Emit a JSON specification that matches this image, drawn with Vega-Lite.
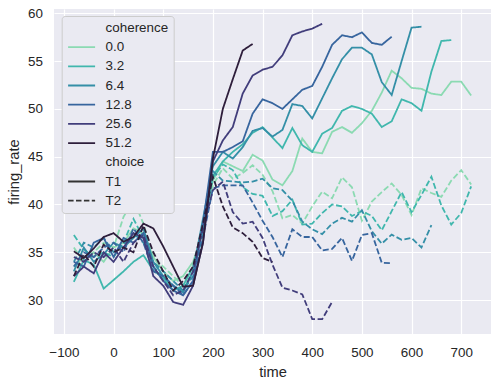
{
 "$schema": "https://vega.github.io/schema/vega-lite/v6.json",
 "width": 437, "height": 325,
 "autosize": {"type": "none"},
 "padding": {"left": 54, "top": 9, "right": 8, "bottom": 52},
 "background": "white",
 "config": {
  "view": {"fill": "#EAEAF2", "stroke": null},
  "font": "Liberation Sans",
  "axis": {"domain": false, "ticks": false, "grid": true, "gridColor": "white", "gridWidth": 1.2, "labelFont": "Liberation Sans", "labelFontSize": 13.4, "labelColor": "#262626", "labelPadding": 11.6, "titleFont": "Liberation Sans", "titleFontSize": 14.7, "titleFontWeight": "normal", "titleColor": "#262626"}
 },
 "data": {"values": [
{"time":-80,"coh":"0.0","choice":"T1","rate":33.5},{"time":-60,"coh":"0.0","choice":"T1","rate":34.5},{"time":-40,"coh":"0.0","choice":"T1","rate":35.0},{"time":-20,"coh":"0.0","choice":"T1","rate":34.0},{"time":0,"coh":"0.0","choice":"T1","rate":35.5},{"time":20,"coh":"0.0","choice":"T1","rate":36.0},{"time":40,"coh":"0.0","choice":"T1","rate":37.5},{"time":60,"coh":"0.0","choice":"T1","rate":37.0},{"time":80,"coh":"0.0","choice":"T1","rate":34.5},{"time":100,"coh":"0.0","choice":"T1","rate":33.0},{"time":120,"coh":"0.0","choice":"T1","rate":32.0},{"time":140,"coh":"0.0","choice":"T1","rate":32.5},{"time":160,"coh":"0.0","choice":"T1","rate":34.0},{"time":180,"coh":"0.0","choice":"T1","rate":37.0},{"time":200,"coh":"0.0","choice":"T1","rate":42.5},{"time":220,"coh":"0.0","choice":"T1","rate":44.5},{"time":240,"coh":"0.0","choice":"T1","rate":44.0},{"time":260,"coh":"0.0","choice":"T1","rate":43.5},{"time":280,"coh":"0.0","choice":"T1","rate":45.2},{"time":300,"coh":"0.0","choice":"T1","rate":44.6},{"time":320,"coh":"0.0","choice":"T1","rate":42.6},{"time":340,"coh":"0.0","choice":"T1","rate":42.0},{"time":360,"coh":"0.0","choice":"T1","rate":43.5},{"time":380,"coh":"0.0","choice":"T1","rate":46.9},{"time":400,"coh":"0.0","choice":"T1","rate":45.5},{"time":420,"coh":"0.0","choice":"T1","rate":45.35},{"time":440,"coh":"0.0","choice":"T1","rate":47.6},{"time":460,"coh":"0.0","choice":"T1","rate":48.1},{"time":480,"coh":"0.0","choice":"T1","rate":47.5},{"time":500,"coh":"0.0","choice":"T1","rate":48.5},{"time":520,"coh":"0.0","choice":"T1","rate":49.8},{"time":540,"coh":"0.0","choice":"T1","rate":51.7},{"time":560,"coh":"0.0","choice":"T1","rate":54.0},{"time":580,"coh":"0.0","choice":"T1","rate":53.2},{"time":600,"coh":"0.0","choice":"T1","rate":52.2},{"time":620,"coh":"0.0","choice":"T1","rate":52.1},{"time":640,"coh":"0.0","choice":"T1","rate":51.6},{"time":660,"coh":"0.0","choice":"T1","rate":51.45},{"time":680,"coh":"0.0","choice":"T1","rate":52.85},{"time":700,"coh":"0.0","choice":"T1","rate":52.85},{"time":720,"coh":"0.0","choice":"T1","rate":51.4},
{"time":-80,"coh":"0.0","choice":"T2","rate":35.5},{"time":-60,"coh":"0.0","choice":"T2","rate":34.0},{"time":-40,"coh":"0.0","choice":"T2","rate":35.0},{"time":-20,"coh":"0.0","choice":"T2","rate":36.0},{"time":0,"coh":"0.0","choice":"T2","rate":35.5},{"time":20,"coh":"0.0","choice":"T2","rate":38.7},{"time":40,"coh":"0.0","choice":"T2","rate":40.5},{"time":60,"coh":"0.0","choice":"T2","rate":38.0},{"time":80,"coh":"0.0","choice":"T2","rate":34.5},{"time":100,"coh":"0.0","choice":"T2","rate":33.5},{"time":120,"coh":"0.0","choice":"T2","rate":32.5},{"time":140,"coh":"0.0","choice":"T2","rate":31.5},{"time":160,"coh":"0.0","choice":"T2","rate":33.5},{"time":180,"coh":"0.0","choice":"T2","rate":37.5},{"time":200,"coh":"0.0","choice":"T2","rate":42.0},{"time":220,"coh":"0.0","choice":"T2","rate":43.8},{"time":240,"coh":"0.0","choice":"T2","rate":42.7},{"time":260,"coh":"0.0","choice":"T2","rate":43.3},{"time":280,"coh":"0.0","choice":"T2","rate":44.1},{"time":300,"coh":"0.0","choice":"T2","rate":43.1},{"time":320,"coh":"0.0","choice":"T2","rate":41.4},{"time":340,"coh":"0.0","choice":"T2","rate":38.55},{"time":360,"coh":"0.0","choice":"T2","rate":38.9},{"time":380,"coh":"0.0","choice":"T2","rate":38.0},{"time":400,"coh":"0.0","choice":"T2","rate":39.8},{"time":420,"coh":"0.0","choice":"T2","rate":41.35},{"time":440,"coh":"0.0","choice":"T2","rate":40.65},{"time":460,"coh":"0.0","choice":"T2","rate":42.85},{"time":480,"coh":"0.0","choice":"T2","rate":41.8},{"time":500,"coh":"0.0","choice":"T2","rate":38.3},{"time":520,"coh":"0.0","choice":"T2","rate":40.3},{"time":540,"coh":"0.0","choice":"T2","rate":41.3},{"time":560,"coh":"0.0","choice":"T2","rate":42.2},{"time":580,"coh":"0.0","choice":"T2","rate":41.0},{"time":600,"coh":"0.0","choice":"T2","rate":38.9},{"time":620,"coh":"0.0","choice":"T2","rate":41.7},{"time":640,"coh":"0.0","choice":"T2","rate":41.2},{"time":660,"coh":"0.0","choice":"T2","rate":40.8},{"time":680,"coh":"0.0","choice":"T2","rate":42.5},{"time":700,"coh":"0.0","choice":"T2","rate":43.6},{"time":720,"coh":"0.0","choice":"T2","rate":42.1},
{"time":-80,"coh":"3.2","choice":"T1","rate":31.9},{"time":-60,"coh":"3.2","choice":"T1","rate":34.2},{"time":-40,"coh":"3.2","choice":"T1","rate":33.7},{"time":-20,"coh":"3.2","choice":"T1","rate":31.2},{"time":0,"coh":"3.2","choice":"T1","rate":32.1},{"time":20,"coh":"3.2","choice":"T1","rate":33.0},{"time":40,"coh":"3.2","choice":"T1","rate":34.0},{"time":60,"coh":"3.2","choice":"T1","rate":34.7},{"time":80,"coh":"3.2","choice":"T1","rate":33.1},{"time":100,"coh":"3.2","choice":"T1","rate":32.3},{"time":120,"coh":"3.2","choice":"T1","rate":31.0},{"time":140,"coh":"3.2","choice":"T1","rate":31.5},{"time":160,"coh":"3.2","choice":"T1","rate":33.5},{"time":180,"coh":"3.2","choice":"T1","rate":37.5},{"time":200,"coh":"3.2","choice":"T1","rate":43.0},{"time":220,"coh":"3.2","choice":"T1","rate":44.5},{"time":240,"coh":"3.2","choice":"T1","rate":45.5},{"time":260,"coh":"3.2","choice":"T1","rate":46.3},{"time":280,"coh":"3.2","choice":"T1","rate":47.5},{"time":300,"coh":"3.2","choice":"T1","rate":48.1},{"time":320,"coh":"3.2","choice":"T1","rate":47.0},{"time":340,"coh":"3.2","choice":"T1","rate":45.9},{"time":360,"coh":"3.2","choice":"T1","rate":48.0},{"time":380,"coh":"3.2","choice":"T1","rate":46.2},{"time":400,"coh":"3.2","choice":"T1","rate":45.5},{"time":420,"coh":"3.2","choice":"T1","rate":47.4},{"time":440,"coh":"3.2","choice":"T1","rate":48.0},{"time":460,"coh":"3.2","choice":"T1","rate":49.8},{"time":480,"coh":"3.2","choice":"T1","rate":50.3},{"time":500,"coh":"3.2","choice":"T1","rate":50.0},{"time":520,"coh":"3.2","choice":"T1","rate":49.5},{"time":540,"coh":"3.2","choice":"T1","rate":48.1},{"time":560,"coh":"3.2","choice":"T1","rate":48.7},{"time":580,"coh":"3.2","choice":"T1","rate":51.0},{"time":600,"coh":"3.2","choice":"T1","rate":50.6},{"time":620,"coh":"3.2","choice":"T1","rate":49.8},{"time":640,"coh":"3.2","choice":"T1","rate":53.9},{"time":660,"coh":"3.2","choice":"T1","rate":57.1},{"time":680,"coh":"3.2","choice":"T1","rate":57.2},
{"time":-80,"coh":"3.2","choice":"T2","rate":36.8},{"time":-60,"coh":"3.2","choice":"T2","rate":35.3},{"time":-40,"coh":"3.2","choice":"T2","rate":34.5},{"time":-20,"coh":"3.2","choice":"T2","rate":35.0},{"time":0,"coh":"3.2","choice":"T2","rate":34.5},{"time":20,"coh":"3.2","choice":"T2","rate":36.0},{"time":40,"coh":"3.2","choice":"T2","rate":38.5},{"time":60,"coh":"3.2","choice":"T2","rate":36.5},{"time":80,"coh":"3.2","choice":"T2","rate":33.5},{"time":100,"coh":"3.2","choice":"T2","rate":32.5},{"time":120,"coh":"3.2","choice":"T2","rate":31.5},{"time":140,"coh":"3.2","choice":"T2","rate":31.0},{"time":160,"coh":"3.2","choice":"T2","rate":33.0},{"time":180,"coh":"3.2","choice":"T2","rate":38.0},{"time":200,"coh":"3.2","choice":"T2","rate":42.8},{"time":220,"coh":"3.2","choice":"T2","rate":44.2},{"time":240,"coh":"3.2","choice":"T2","rate":43.6},{"time":260,"coh":"3.2","choice":"T2","rate":41.8},{"time":280,"coh":"3.2","choice":"T2","rate":41.1},{"time":300,"coh":"3.2","choice":"T2","rate":40.9},{"time":320,"coh":"3.2","choice":"T2","rate":38.8},{"time":340,"coh":"3.2","choice":"T2","rate":39.3},{"time":360,"coh":"3.2","choice":"T2","rate":40.5},{"time":380,"coh":"3.2","choice":"T2","rate":37.9},{"time":400,"coh":"3.2","choice":"T2","rate":38.0},{"time":420,"coh":"3.2","choice":"T2","rate":39.1},{"time":440,"coh":"3.2","choice":"T2","rate":40.0},{"time":460,"coh":"3.2","choice":"T2","rate":39.8},{"time":480,"coh":"3.2","choice":"T2","rate":38.8},{"time":500,"coh":"3.2","choice":"T2","rate":39.3},{"time":520,"coh":"3.2","choice":"T2","rate":38.8},{"time":540,"coh":"3.2","choice":"T2","rate":37.3},{"time":560,"coh":"3.2","choice":"T2","rate":39.3},{"time":580,"coh":"3.2","choice":"T2","rate":41.3},{"time":600,"coh":"3.2","choice":"T2","rate":39.2},{"time":620,"coh":"3.2","choice":"T2","rate":41.0},{"time":640,"coh":"3.2","choice":"T2","rate":42.9},{"time":660,"coh":"3.2","choice":"T2","rate":39.9},{"time":680,"coh":"3.2","choice":"T2","rate":37.9},{"time":700,"coh":"3.2","choice":"T2","rate":39.1},{"time":720,"coh":"3.2","choice":"T2","rate":41.9},
{"time":-80,"coh":"6.4","choice":"T1","rate":33.0},{"time":-60,"coh":"6.4","choice":"T1","rate":35.5},{"time":-40,"coh":"6.4","choice":"T1","rate":34.0},{"time":-20,"coh":"6.4","choice":"T1","rate":34.8},{"time":0,"coh":"6.4","choice":"T1","rate":36.0},{"time":20,"coh":"6.4","choice":"T1","rate":35.5},{"time":40,"coh":"6.4","choice":"T1","rate":36.5},{"time":60,"coh":"6.4","choice":"T1","rate":37.5},{"time":80,"coh":"6.4","choice":"T1","rate":34.0},{"time":100,"coh":"6.4","choice":"T1","rate":32.5},{"time":120,"coh":"6.4","choice":"T1","rate":31.5},{"time":140,"coh":"6.4","choice":"T1","rate":30.8},{"time":160,"coh":"6.4","choice":"T1","rate":33.0},{"time":180,"coh":"6.4","choice":"T1","rate":38.5},{"time":200,"coh":"6.4","choice":"T1","rate":44.0},{"time":220,"coh":"6.4","choice":"T1","rate":45.5},{"time":240,"coh":"6.4","choice":"T1","rate":44.8},{"time":260,"coh":"6.4","choice":"T1","rate":46.0},{"time":280,"coh":"6.4","choice":"T1","rate":47.7},{"time":300,"coh":"6.4","choice":"T1","rate":48.0},{"time":320,"coh":"6.4","choice":"T1","rate":47.1},{"time":340,"coh":"6.4","choice":"T1","rate":47.8},{"time":360,"coh":"6.4","choice":"T1","rate":50.5},{"time":380,"coh":"6.4","choice":"T1","rate":50.3},{"time":400,"coh":"6.4","choice":"T1","rate":49.0},{"time":420,"coh":"6.4","choice":"T1","rate":51.1},{"time":440,"coh":"6.4","choice":"T1","rate":53.2},{"time":460,"coh":"6.4","choice":"T1","rate":55.2},{"time":480,"coh":"6.4","choice":"T1","rate":56.4},{"time":500,"coh":"6.4","choice":"T1","rate":56.4},{"time":520,"coh":"6.4","choice":"T1","rate":55.7},{"time":540,"coh":"6.4","choice":"T1","rate":52.8},{"time":560,"coh":"6.4","choice":"T1","rate":51.45},{"time":580,"coh":"6.4","choice":"T1","rate":55.0},{"time":600,"coh":"6.4","choice":"T1","rate":58.5},{"time":620,"coh":"6.4","choice":"T1","rate":58.6},
{"time":-80,"coh":"6.4","choice":"T2","rate":34.0},{"time":-60,"coh":"6.4","choice":"T2","rate":36.0},{"time":-40,"coh":"6.4","choice":"T2","rate":35.5},{"time":-20,"coh":"6.4","choice":"T2","rate":36.5},{"time":0,"coh":"6.4","choice":"T2","rate":35.0},{"time":20,"coh":"6.4","choice":"T2","rate":35.8},{"time":40,"coh":"6.4","choice":"T2","rate":37.0},{"time":60,"coh":"6.4","choice":"T2","rate":36.0},{"time":80,"coh":"6.4","choice":"T2","rate":34.0},{"time":100,"coh":"6.4","choice":"T2","rate":33.0},{"time":120,"coh":"6.4","choice":"T2","rate":32.0},{"time":140,"coh":"6.4","choice":"T2","rate":31.0},{"time":160,"coh":"6.4","choice":"T2","rate":32.5},{"time":180,"coh":"6.4","choice":"T2","rate":37.0},{"time":200,"coh":"6.4","choice":"T2","rate":43.5},{"time":220,"coh":"6.4","choice":"T2","rate":42.5},{"time":240,"coh":"6.4","choice":"T2","rate":42.4},{"time":260,"coh":"6.4","choice":"T2","rate":42.3},{"time":280,"coh":"6.4","choice":"T2","rate":42.4},{"time":300,"coh":"6.4","choice":"T2","rate":42.7},{"time":320,"coh":"6.4","choice":"T2","rate":41.7},{"time":340,"coh":"6.4","choice":"T2","rate":41.5},{"time":360,"coh":"6.4","choice":"T2","rate":40.4},{"time":380,"coh":"6.4","choice":"T2","rate":38.2},{"time":400,"coh":"6.4","choice":"T2","rate":37.4},{"time":420,"coh":"6.4","choice":"T2","rate":36.9},{"time":440,"coh":"6.4","choice":"T2","rate":38.0},{"time":460,"coh":"6.4","choice":"T2","rate":38.6},{"time":480,"coh":"6.4","choice":"T2","rate":38.2},{"time":500,"coh":"6.4","choice":"T2","rate":39.4},{"time":520,"coh":"6.4","choice":"T2","rate":37.2},{"time":540,"coh":"6.4","choice":"T2","rate":35.9},{"time":560,"coh":"6.4","choice":"T2","rate":36.85},{"time":580,"coh":"6.4","choice":"T2","rate":36.3},{"time":600,"coh":"6.4","choice":"T2","rate":36.5},{"time":620,"coh":"6.4","choice":"T2","rate":35.5},{"time":640,"coh":"6.4","choice":"T2","rate":37.85},
{"time":-80,"coh":"12.8","choice":"T1","rate":34.0},{"time":-60,"coh":"12.8","choice":"T1","rate":33.5},{"time":-40,"coh":"12.8","choice":"T1","rate":36.0},{"time":-20,"coh":"12.8","choice":"T1","rate":36.5},{"time":0,"coh":"12.8","choice":"T1","rate":34.5},{"time":20,"coh":"12.8","choice":"T1","rate":36.5},{"time":40,"coh":"12.8","choice":"T1","rate":36.0},{"time":60,"coh":"12.8","choice":"T1","rate":37.0},{"time":80,"coh":"12.8","choice":"T1","rate":33.5},{"time":100,"coh":"12.8","choice":"T1","rate":32.0},{"time":120,"coh":"12.8","choice":"T1","rate":31.0},{"time":140,"coh":"12.8","choice":"T1","rate":30.5},{"time":160,"coh":"12.8","choice":"T1","rate":32.0},{"time":180,"coh":"12.8","choice":"T1","rate":38.0},{"time":200,"coh":"12.8","choice":"T1","rate":45.5},{"time":220,"coh":"12.8","choice":"T1","rate":45.5},{"time":240,"coh":"12.8","choice":"T1","rate":46.0},{"time":260,"coh":"12.8","choice":"T1","rate":46.6},{"time":280,"coh":"12.8","choice":"T1","rate":49.5},{"time":300,"coh":"12.8","choice":"T1","rate":51.0},{"time":320,"coh":"12.8","choice":"T1","rate":50.6},{"time":340,"coh":"12.8","choice":"T1","rate":50.0},{"time":360,"coh":"12.8","choice":"T1","rate":51.0},{"time":380,"coh":"12.8","choice":"T1","rate":52.0},{"time":400,"coh":"12.8","choice":"T1","rate":52.4},{"time":420,"coh":"12.8","choice":"T1","rate":54.4},{"time":440,"coh":"12.8","choice":"T1","rate":56.7},{"time":460,"coh":"12.8","choice":"T1","rate":57.7},{"time":480,"coh":"12.8","choice":"T1","rate":57.5},{"time":500,"coh":"12.8","choice":"T1","rate":58.0},{"time":520,"coh":"12.8","choice":"T1","rate":56.9},{"time":540,"coh":"12.8","choice":"T1","rate":56.7},{"time":560,"coh":"12.8","choice":"T1","rate":57.55},
{"time":-80,"coh":"12.8","choice":"T2","rate":33.5},{"time":-60,"coh":"12.8","choice":"T2","rate":35.0},{"time":-40,"coh":"12.8","choice":"T2","rate":34.5},{"time":-20,"coh":"12.8","choice":"T2","rate":35.5},{"time":0,"coh":"12.8","choice":"T2","rate":36.0},{"time":20,"coh":"12.8","choice":"T2","rate":35.0},{"time":40,"coh":"12.8","choice":"T2","rate":37.5},{"time":60,"coh":"12.8","choice":"T2","rate":36.0},{"time":80,"coh":"12.8","choice":"T2","rate":33.0},{"time":100,"coh":"12.8","choice":"T2","rate":32.5},{"time":120,"coh":"12.8","choice":"T2","rate":31.5},{"time":140,"coh":"12.8","choice":"T2","rate":30.5},{"time":160,"coh":"12.8","choice":"T2","rate":32.0},{"time":180,"coh":"12.8","choice":"T2","rate":36.5},{"time":200,"coh":"12.8","choice":"T2","rate":41.7},{"time":220,"coh":"12.8","choice":"T2","rate":42.0},{"time":240,"coh":"12.8","choice":"T2","rate":42.0},{"time":260,"coh":"12.8","choice":"T2","rate":42.0},{"time":280,"coh":"12.8","choice":"T2","rate":40.2},{"time":300,"coh":"12.8","choice":"T2","rate":38.3},{"time":320,"coh":"12.8","choice":"T2","rate":36.6},{"time":340,"coh":"12.8","choice":"T2","rate":34.5},{"time":360,"coh":"12.8","choice":"T2","rate":37.4},{"time":380,"coh":"12.8","choice":"T2","rate":36.6},{"time":400,"coh":"12.8","choice":"T2","rate":36.6},{"time":420,"coh":"12.8","choice":"T2","rate":35.2},{"time":440,"coh":"12.8","choice":"T2","rate":35.35},{"time":460,"coh":"12.8","choice":"T2","rate":36.5},{"time":480,"coh":"12.8","choice":"T2","rate":34.1},{"time":500,"coh":"12.8","choice":"T2","rate":36.8},{"time":520,"coh":"12.8","choice":"T2","rate":37.0},{"time":540,"coh":"12.8","choice":"T2","rate":33.9},{"time":560,"coh":"12.8","choice":"T2","rate":33.85},
{"time":-80,"coh":"25.6","choice":"T1","rate":32.5},{"time":-60,"coh":"25.6","choice":"T1","rate":33.5},{"time":-40,"coh":"25.6","choice":"T1","rate":32.8},{"time":-20,"coh":"25.6","choice":"T1","rate":35.0},{"time":0,"coh":"25.6","choice":"T1","rate":34.0},{"time":20,"coh":"25.6","choice":"T1","rate":35.5},{"time":40,"coh":"25.6","choice":"T1","rate":37.0},{"time":60,"coh":"25.6","choice":"T1","rate":36.5},{"time":80,"coh":"25.6","choice":"T1","rate":32.5},{"time":100,"coh":"25.6","choice":"T1","rate":31.5},{"time":120,"coh":"25.6","choice":"T1","rate":29.8},{"time":140,"coh":"25.6","choice":"T1","rate":29.5},{"time":160,"coh":"25.6","choice":"T1","rate":31.5},{"time":180,"coh":"25.6","choice":"T1","rate":36.0},{"time":200,"coh":"25.6","choice":"T1","rate":44.5},{"time":220,"coh":"25.6","choice":"T1","rate":46.7},{"time":240,"coh":"25.6","choice":"T1","rate":48.1},{"time":260,"coh":"25.6","choice":"T1","rate":51.6},{"time":280,"coh":"25.6","choice":"T1","rate":53.5},{"time":300,"coh":"25.6","choice":"T1","rate":54.1},{"time":320,"coh":"25.6","choice":"T1","rate":54.4},{"time":340,"coh":"25.6","choice":"T1","rate":55.6},{"time":360,"coh":"25.6","choice":"T1","rate":57.7},{"time":380,"coh":"25.6","choice":"T1","rate":58.1},{"time":400,"coh":"25.6","choice":"T1","rate":58.4},{"time":420,"coh":"25.6","choice":"T1","rate":58.9},
{"time":-80,"coh":"25.6","choice":"T2","rate":34.5},{"time":-60,"coh":"25.6","choice":"T2","rate":34.0},{"time":-40,"coh":"25.6","choice":"T2","rate":35.0},{"time":-20,"coh":"25.6","choice":"T2","rate":34.5},{"time":0,"coh":"25.6","choice":"T2","rate":35.5},{"time":20,"coh":"25.6","choice":"T2","rate":34.0},{"time":40,"coh":"25.6","choice":"T2","rate":36.0},{"time":60,"coh":"25.6","choice":"T2","rate":36.8},{"time":80,"coh":"25.6","choice":"T2","rate":33.5},{"time":100,"coh":"25.6","choice":"T2","rate":32.0},{"time":120,"coh":"25.6","choice":"T2","rate":30.5},{"time":140,"coh":"25.6","choice":"T2","rate":31.0},{"time":160,"coh":"25.6","choice":"T2","rate":33.0},{"time":180,"coh":"25.6","choice":"T2","rate":37.5},{"time":200,"coh":"25.6","choice":"T2","rate":41.5},{"time":220,"coh":"25.6","choice":"T2","rate":42.4},{"time":240,"coh":"25.6","choice":"T2","rate":39.2},{"time":260,"coh":"25.6","choice":"T2","rate":38.0},{"time":280,"coh":"25.6","choice":"T2","rate":38.2},{"time":300,"coh":"25.6","choice":"T2","rate":36.5},{"time":320,"coh":"25.6","choice":"T2","rate":33.7},{"time":340,"coh":"25.6","choice":"T2","rate":31.3},{"time":360,"coh":"25.6","choice":"T2","rate":31.0},{"time":380,"coh":"25.6","choice":"T2","rate":30.6},{"time":400,"coh":"25.6","choice":"T2","rate":28.0},{"time":420,"coh":"25.6","choice":"T2","rate":28.0},{"time":440,"coh":"25.6","choice":"T2","rate":29.8},
{"time":-80,"coh":"51.2","choice":"T1","rate":35.1},{"time":-60,"coh":"51.2","choice":"T1","rate":34.4},{"time":-40,"coh":"51.2","choice":"T1","rate":35.4},{"time":-20,"coh":"51.2","choice":"T1","rate":36.6},{"time":0,"coh":"51.2","choice":"T1","rate":37.0},{"time":20,"coh":"51.2","choice":"T1","rate":36.1},{"time":40,"coh":"51.2","choice":"T1","rate":36.6},{"time":60,"coh":"51.2","choice":"T1","rate":38.0},{"time":80,"coh":"51.2","choice":"T1","rate":37.5},{"time":100,"coh":"51.2","choice":"T1","rate":35.6},{"time":120,"coh":"51.2","choice":"T1","rate":33.5},{"time":140,"coh":"51.2","choice":"T1","rate":31.4},{"time":160,"coh":"51.2","choice":"T1","rate":31.5},{"time":180,"coh":"51.2","choice":"T1","rate":36.0},{"time":200,"coh":"51.2","choice":"T1","rate":44.8},{"time":220,"coh":"51.2","choice":"T1","rate":50.0},{"time":240,"coh":"51.2","choice":"T1","rate":53.1},{"time":260,"coh":"51.2","choice":"T1","rate":56.1},{"time":280,"coh":"51.2","choice":"T1","rate":56.8},
{"time":-80,"coh":"51.2","choice":"T2","rate":32.5},{"time":-60,"coh":"51.2","choice":"T2","rate":34.8},{"time":-40,"coh":"51.2","choice":"T2","rate":33.5},{"time":-20,"coh":"51.2","choice":"T2","rate":35.8},{"time":0,"coh":"51.2","choice":"T2","rate":35.0},{"time":20,"coh":"51.2","choice":"T2","rate":35.5},{"time":40,"coh":"51.2","choice":"T2","rate":35.0},{"time":60,"coh":"51.2","choice":"T2","rate":37.8},{"time":80,"coh":"51.2","choice":"T2","rate":35.0},{"time":100,"coh":"51.2","choice":"T2","rate":33.0},{"time":120,"coh":"51.2","choice":"T2","rate":31.0},{"time":140,"coh":"51.2","choice":"T2","rate":32.0},{"time":160,"coh":"51.2","choice":"T2","rate":33.5},{"time":180,"coh":"51.2","choice":"T2","rate":38.0},{"time":200,"coh":"51.2","choice":"T2","rate":42.9},{"time":220,"coh":"51.2","choice":"T2","rate":39.8},{"time":240,"coh":"51.2","choice":"T2","rate":37.6},{"time":260,"coh":"51.2","choice":"T2","rate":37.0},{"time":280,"coh":"51.2","choice":"T2","rate":36.1},{"time":300,"coh":"51.2","choice":"T2","rate":34.4},{"time":320,"coh":"51.2","choice":"T2","rate":34.0}
 ]},
 "mark": {"type": "line", "strokeWidth": 1.8, "clip": true},
 "encoding": {
  "x": {"field": "time", "type": "quantitative", "scale": {"domain": [-120, 760], "nice": false, "zero": false}, "axis": {"values": [-100, 0, 100, 200, 300, 400, 500, 600, 700], "title": "time", "titlePadding": 5, "labelFlush": false}},
  "y": {"field": "rate", "type": "quantitative", "scale": {"domain": [26.45, 60.45], "nice": false, "zero": false}, "axis": {"values": [30, 35, 40, 45, 50, 55, 60], "title": "firing_rate", "titlePadding": 6}},
  "color": {"field": "coh", "type": "nominal",
   "scale": {"domain": ["coherence", "0.0", "3.2", "6.4", "12.8", "25.6", "51.2", "choice", "T1", "T2"],
             "range": ["rgba(0,0,0,0)", "#8bdab2", "#40b7ad", "#348fa7", "#37659e", "#413d7b", "#2e1e3b", "rgba(0,0,0,0)", "#333333", "#333333"]},
   "legend": {"title": null, "orient": "none", "legendX": 7.7, "legendY": 7, "symbolType": "stroke", "symbolSize": 729, "symbolStrokeWidth": 1.8, "clipHeight": 13, "rowPadding": 5.2, "labelOffset": 9.5, "labelFont": "Liberation Sans", "labelFontSize": 13.4, "labelColor": "#262626", "labelLimit": 200, "padding": 5.4, "fillColor": "#EAEAF2", "strokeColor": "#cccccc", "cornerRadius": 3,
     "encode": {"symbols": {"update": {"strokeDash": [{"test": "datum.value === 'T2'", "value": [5.5, 2.4]}, {"value": [1, 0]}]}}}}},
  "strokeDash": {"field": "choice", "type": "nominal", "scale": {"domain": ["T1", "T2"], "range": [[1, 0], [6, 2.6]]}, "legend": null}
 }
}
